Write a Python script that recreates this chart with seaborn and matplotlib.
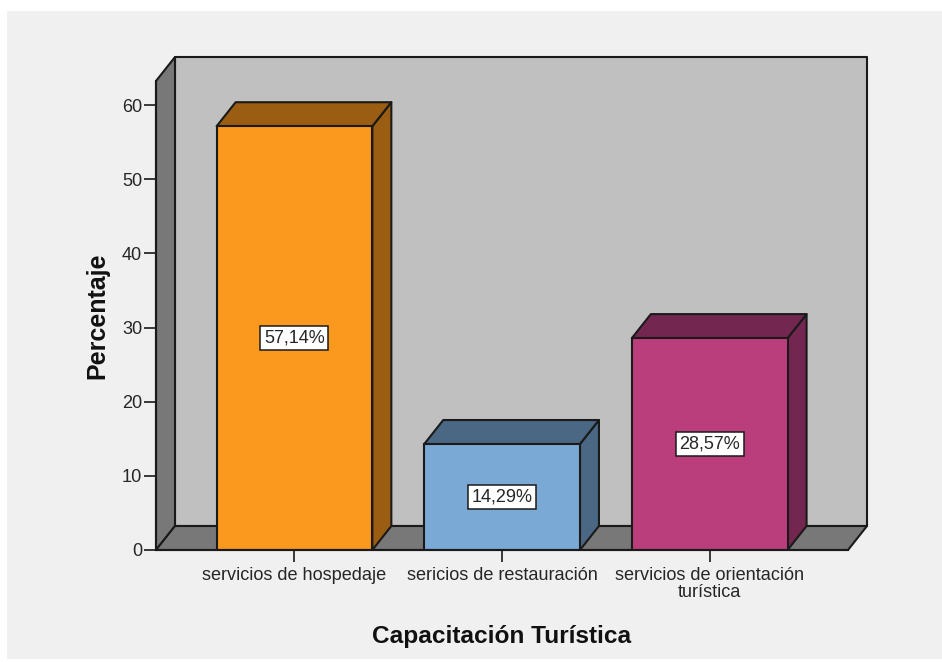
import matplotlib
matplotlib.use("Agg")
import matplotlib.pyplot as plt
from matplotlib.patches import Polygon, Rectangle
from matplotlib.transforms import Affine2D, IdentityTransform
import seaborn as sns
import pandas as pd

categories = ["servicios de hospedaje", "sericios de restauración", "servicios de orientación\nturística"]
values = [57.14, 14.29, 28.57]
value_labels = ["57,14%", "14,29%", "28,57%"]
front_colors = ["#FB981E", "#7BA9D6", "#BB3E7C"]
shade_colors = ["#9A5D11", "#4A6883", "#732750"]
y_ticks = [0, 10, 20, 30, 40, 50, 60]
x_title = "Capacitación Turística"
y_title = "Percentaje"

W, H = 942, 662
DX, DY = 19, 24
L, R, B, T = 156, 848, 550, 81
EDGE = "#1a1a1a"
TXT = "#262626"

sns.set_theme(style="white")
plt.rcParams["font.family"] = ["Liberation Sans", "DejaVu Sans"]

fig = plt.figure(figsize=(W / 100, H / 100), dpi=100, facecolor="white")
fig.add_artist(Rectangle((7 / W, 1 - 659 / H), (W - 7) / W, (659 - 11) / H,
                         transform=fig.transFigure, facecolor="#F0F0F0", edgecolor="none", zorder=-5))
ax = fig.add_axes([L / W, 1 - B / H, (R - L) / W, (B - T) / H])
ax.patch.set_alpha(0)

df = pd.DataFrame({"cat": categories, "val": values})
sns.barplot(data=df, x="cat", y="val", hue="cat", palette=front_colors, saturation=1,
            width=0.75, dodge=False, legend=False, ax=ax, zorder=3,
            edgecolor=EDGE, linewidth=1.5)

ax.set_xlim(-0.667, 2.666)
ax.set_ylim(0, (B - T) / ((B - 105) / 60))
x0, x1 = ax.get_xlim()
y0, y1 = ax.get_ylim()

# depth is applied as a pixel shift on top of the data transform
back = ax.transData + Affine2D().translate(DX, DY)
lw = 1.5
bars = list(ax.patches[:3])


def box(xs, ys, at_back, color, z):
    """Polygon through data points; at_back marks points on the rear plane."""
    pts = [(back if b else ax.transData).transform((x, y)) for x, y, b in zip(xs, ys, at_back)]
    ax.add_patch(Polygon(pts, closed=True, transform=IdentityTransform(), facecolor=color,
                         edgecolor=EDGE, linewidth=lw, clip_on=False, zorder=z,
                         joinstyle="round"))


# back wall, left wall, floor
box([x0, x1, x1, x0], [y0, y0, y1, y1], [1, 1, 1, 1], "#C0C0C0", 1)
box([x0, x0, x0, x0], [y0, y1, y1, y0], [0, 0, 1, 1], "#787878", 1.5)
box([x0, x1, x1, x0], [y0, y0, y0, y0], [0, 0, 1, 1], "#787878", 1.5)

# bar depth faces
for bar, shade in zip(bars, shade_colors):
    bx0, bx1, h = bar.get_x(), bar.get_x() + bar.get_width(), bar.get_height()
    box([bx1, bx1, bx1, bx1], [0, h, h, 0], [0, 0, 1, 1], shade, 2)
    box([bx0, bx1, bx1, bx0], [h, h, h, h], [0, 0, 1, 1], shade, 2)

for i, (v, lab) in enumerate(zip(values, value_labels)):
    ax.text(i, v / 2, lab, ha="center", va="center", fontsize=13, color=TXT, zorder=5,
            bbox=dict(boxstyle="square,pad=0.2", facecolor="white", edgecolor=EDGE, linewidth=1.1))

for s in ["top", "right"]:
    ax.spines[s].set_visible(False)
for s in ["left", "bottom"]:
    ax.spines[s].set_visible(True)
    ax.spines[s].set_color(EDGE)
    ax.spines[s].set_linewidth(1.5)
    ax.spines[s].set_zorder(4)

ax.set_yticks(y_ticks)
ax.set_xticks(range(len(categories)))
ax.set_xticklabels(categories, linespacing=0.98)
ax.tick_params(axis="both", which="major", length=8.5, width=1.2, color=EDGE, bottom=True, left=True,
               labelcolor=TXT, labelsize=13.1)
ax.tick_params(axis="y", pad=1.5)
ax.tick_params(axis="x", pad=4)
ax.set_xlabel(x_title, fontsize=17.6, fontweight="bold", color="#111111", labelpad=17)
ax.set_ylabel(y_title, fontsize=18, fontweight="bold", color="#111111", labelpad=9)

fig.savefig("out.png", dpi=100, facecolor="white")
